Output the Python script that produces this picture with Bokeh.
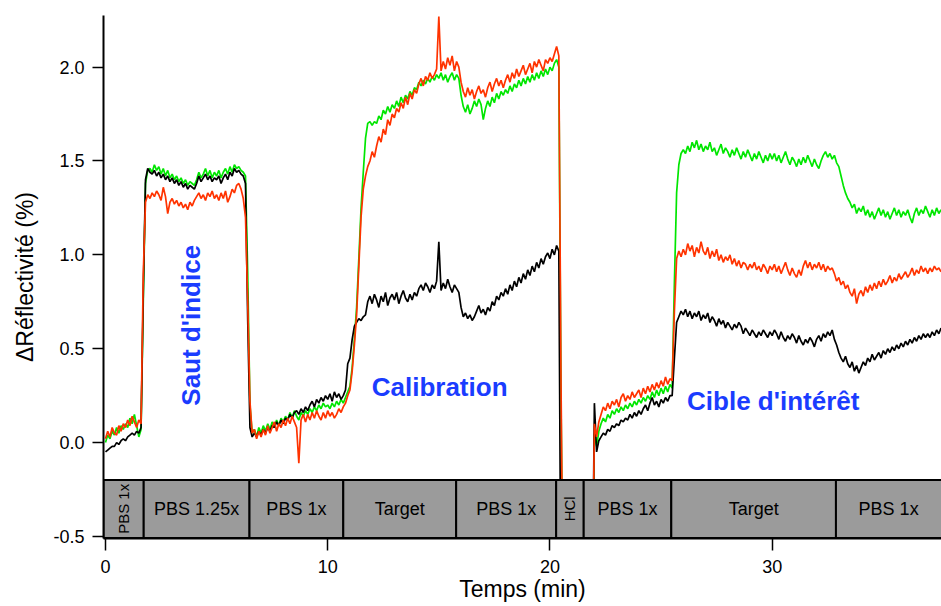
import math
from bokeh.plotting import figure
from bokeh.models import Range1d, FixedTicker, ColumnDataSource, PrintfTickFormatter
from bokeh.core.properties import value
from bokeh.embed import file_html
from bokeh.resources import INLINE

black = [
    -0.05, -0.04, -0.03, -0.02, -0.02, 0.00, -0.01, 0.01, 0.02, 0.01,
    0.03, 0.04, 0.05, 0.04, 0.06, 0.05, 0.08, 0.80, 1.40, 1.46,
    1.44, 1.43, 1.45, 1.42, 1.44, 1.41, 1.43, 1.40, 1.42, 1.39,
    1.41, 1.38, 1.40, 1.37, 1.39, 1.36, 1.38, 1.35, 1.37, 1.36,
    1.35, 1.38, 1.42, 1.39, 1.41, 1.43, 1.40, 1.42, 1.39, 1.41,
    1.40, 1.42, 1.38, 1.41, 1.43, 1.40, 1.44, 1.42, 1.46, 1.44,
    1.45, 1.43, 1.42, 1.38, 0.65, 0.08, 0.03, 0.05, 0.03, 0.06,
    0.04, 0.07, 0.05, 0.08, 0.06, 0.09, 0.08, 0.11, 0.09, 0.12,
    0.10, 0.13, 0.12, 0.15, 0.13, 0.16, 0.17, 0.15, 0.18, 0.16,
    0.19, 0.17, 0.20, 0.22, 0.19, 0.23, 0.21, 0.24, 0.22, 0.25,
    0.23, 0.26, 0.22, 0.27, 0.24, 0.26, 0.23, 0.25, 0.28, 0.42,
    0.45, 0.55, 0.62, 0.64, 0.66, 0.65, 0.67, 0.68, 0.75, 0.78,
    0.74, 0.79, 0.76, 0.72, 0.78, 0.75, 0.80, 0.73, 0.77, 0.79,
    0.76, 0.80, 0.74, 0.78, 0.81, 0.77, 0.75, 0.79, 0.76, 0.80,
    0.78, 0.82, 0.84, 0.81, 0.85, 0.83, 0.80, 0.84, 0.82, 0.86,
    1.07, 0.81, 0.85, 0.82, 0.87, 0.83, 0.80, 0.84, 0.82, 0.80,
    0.72, 0.67, 0.69, 0.66, 0.68, 0.65, 0.67, 0.70, 0.73, 0.69,
    0.71, 0.68, 0.72, 0.70, 0.75, 0.73, 0.78, 0.76, 0.80, 0.78,
    0.82, 0.79, 0.84, 0.81, 0.86, 0.83, 0.88, 0.85, 0.90, 0.87,
    0.92, 0.89, 0.94, 0.91, 0.96, 0.93, 0.98, 0.95, 0.99, 1.01,
    0.98, 1.03, 1.00, 1.05, 1.02, -1.00, -1.00, -1.00, -1.00, -1.00,
    -1.00, -1.00, -1.00, -1.00, -1.00, -1.00, -1.00, -1.00, -1.00, -1.00,
    0.21, -0.05, 0.01, 0.03, 0.05, 0.04, 0.07, 0.06, 0.09, 0.08,
    0.10, 0.09, 0.12, 0.11, 0.13, 0.12, 0.15, 0.13, 0.16, 0.14,
    0.17, 0.15, 0.18, 0.20, 0.17, 0.21, 0.24, 0.20, 0.22, 0.19,
    0.23, 0.21, 0.24, 0.22, 0.25, 0.25, 0.45, 0.64, 0.67, 0.70,
    0.68, 0.71, 0.67, 0.70, 0.66, 0.69, 0.67, 0.70, 0.65, 0.68,
    0.66, 0.69, 0.64, 0.67, 0.65, 0.62, 0.66, 0.63, 0.65, 0.61,
    0.64, 0.62, 0.60, 0.63, 0.61, 0.64, 0.62, 0.58, 0.61, 0.59,
    0.57, 0.60, 0.58, 0.56, 0.59, 0.57, 0.60, 0.58, 0.56, 0.59,
    0.57, 0.60, 0.58, 0.55, 0.59, 0.56, 0.54, 0.57, 0.55, 0.58,
    0.56, 0.53, 0.57, 0.54, 0.52, 0.55, 0.53, 0.56, 0.54, 0.51,
    0.55, 0.57, 0.54, 0.58, 0.56, 0.59, 0.57, 0.60, 0.55, 0.52,
    0.48, 0.45, 0.43, 0.46, 0.42, 0.40, 0.43, 0.38, 0.41, 0.37,
    0.40, 0.43, 0.41, 0.45, 0.43, 0.47, 0.44, 0.46, 0.48, 0.45,
    0.49, 0.47, 0.50, 0.48, 0.51, 0.49, 0.52, 0.50, 0.53, 0.51,
    0.54, 0.52, 0.55, 0.53, 0.56, 0.54, 0.57, 0.55, 0.58, 0.56,
    0.58, 0.56, 0.59, 0.57, 0.60, 0.58, 0.61,
]

red = [
    0.02, 0.06, 0.03, 0.08, 0.05, 0.04, 0.09, 0.06, 0.10, 0.08,
    0.12, 0.09, 0.14, 0.11, 0.08, 0.12, 0.10, 0.90, 1.28, 1.32,
    1.30, 1.33, 1.31, 1.34, 1.32, 1.29, 1.36, 1.31, 1.22, 1.28,
    1.30, 1.27, 1.29, 1.26, 1.28, 1.25, 1.27, 1.24, 1.28, 1.26,
    1.29, 1.31, 1.33, 1.30, 1.32, 1.29, 1.33, 1.31, 1.34, 1.30,
    1.32, 1.29, 1.33, 1.30, 1.34, 1.28, 1.31, 1.35, 1.33, 1.37,
    1.38, 1.35, 1.30, 1.20, 0.75, 0.22, 0.05, 0.07, 0.02, 0.06,
    0.03, 0.07, 0.04, 0.09, 0.05, 0.08, 0.11, 0.06, 0.10, 0.08,
    0.12, 0.09, 0.13, 0.10, 0.14, 0.11, 0.08, -0.11, 0.12, 0.15,
    0.11, 0.15, 0.12, 0.16, 0.13, 0.17, 0.14, 0.12, 0.16, 0.13,
    0.17, 0.14, 0.16, 0.13, 0.15, 0.18, 0.16, 0.19, 0.21, 0.25,
    0.28, 0.38, 0.52, 0.68, 0.94, 1.20, 1.35, 1.42, 1.47, 1.50,
    1.55, 1.52, 1.58, 1.63, 1.60, 1.67, 1.64, 1.72, 1.69, 1.75,
    1.73, 1.78, 1.76, 1.81, 1.78, 1.84, 1.80, 1.86, 1.83, 1.88,
    1.86, 1.91, 1.94, 1.90, 1.95, 1.93, 1.97, 1.94, 1.96, 1.99,
    2.27, 1.98, 2.03, 1.99, 2.05, 2.01, 2.06, 1.98, 2.03, 2.00,
    1.92, 1.87, 1.84, 1.89, 1.85, 1.88, 1.83, 1.87, 1.90, 1.86,
    1.88, 1.84, 1.89, 1.92, 1.87, 1.91, 1.94, 1.90, 1.93, 1.89,
    1.93, 1.96, 1.92, 1.97, 1.94, 1.99, 1.95, 1.98, 2.01, 1.96,
    1.99, 2.02, 1.97, 2.03, 2.00, 2.04, 2.01, 1.98, 2.04, 2.02,
    2.05, 2.03, 2.07, 2.11, 2.06, 0.30, -1.00, -1.00, -1.00, -1.00,
    -1.00, -1.00, -1.00, -1.00, -1.00, -1.00, -1.00, -1.00, -1.00, -1.00,
    0.10, 0.03, 0.11, 0.15, 0.19, 0.17, 0.21, 0.18, 0.22, 0.20,
    0.23, 0.19, 0.24, 0.26, 0.22, 0.25, 0.23, 0.27, 0.24, 0.26,
    0.28, 0.24, 0.29, 0.26, 0.30, 0.27, 0.31, 0.28, 0.32, 0.29,
    0.33, 0.30, 0.35, 0.31, 0.34, 0.33, 0.70, 0.98, 1.02, 0.99,
    1.03, 1.00, 1.06, 1.02, 1.05, 0.99, 1.04, 1.01, 1.07, 1.02,
    1.00, 1.04, 0.98, 1.02, 0.99, 1.03, 0.97, 1.00, 0.96, 0.99,
    0.97, 1.00, 0.95, 0.98, 0.94, 0.97, 0.93, 0.96, 0.95, 0.92,
    0.95, 0.93, 0.96, 0.92, 0.94, 0.91, 0.95, 0.93, 0.90, 0.94,
    0.92, 0.95, 0.91, 0.94, 0.90, 0.93, 0.96, 0.92, 0.89, 0.93,
    0.90, 0.88, 0.92, 0.89, 0.94, 0.97, 0.93, 0.96, 0.92, 0.95,
    0.93, 0.96, 0.92, 0.95, 0.91, 0.94, 0.92, 0.93, 0.90, 0.86,
    0.88, 0.84, 0.86, 0.82, 0.84, 0.80, 0.78, 0.82, 0.74, 0.79,
    0.81, 0.78, 0.83, 0.80, 0.84, 0.81, 0.85, 0.82, 0.86, 0.83,
    0.87, 0.84, 0.86, 0.89, 0.85, 0.88, 0.86, 0.90, 0.87, 0.89,
    0.91, 0.88, 0.90, 0.93, 0.89, 0.92, 0.90, 0.94, 0.91, 0.93,
    0.90, 0.93, 0.91, 0.94, 0.92, 0.93, 0.91,
]

green = [
    0.00, 0.04, 0.02, 0.06, 0.04, 0.08, 0.05, 0.09, 0.07, 0.10,
    0.08, 0.13, 0.10, 0.15, 0.09, 0.03, 0.07, 0.75, 1.38, 1.45,
    1.46, 1.44, 1.48, 1.45, 1.47, 1.43, 1.46, 1.42, 1.45, 1.41,
    1.43, 1.40, 1.42, 1.39, 1.41, 1.38, 1.40, 1.37, 1.39, 1.38,
    1.37, 1.40, 1.44, 1.41, 1.43, 1.46, 1.42, 1.45, 1.41, 1.44,
    1.42, 1.45, 1.41, 1.44, 1.46, 1.43, 1.47, 1.44, 1.48, 1.46,
    1.47, 1.45, 1.44, 1.42, 0.90, 0.20, 0.05, 0.07, 0.03, 0.08,
    0.05, 0.09, 0.06, 0.10, 0.07, 0.11, 0.08, 0.12, 0.09, 0.13,
    0.11, 0.14, 0.12, 0.16, 0.13, 0.17, 0.14, 0.12, 0.16, 0.14,
    0.17, 0.15, 0.18, 0.16, 0.19, 0.17, 0.20, 0.18, 0.21, 0.19,
    0.20, 0.18, 0.21, 0.19, 0.22, 0.20, 0.23, 0.21, 0.24, 0.27,
    0.30, 0.40, 0.55, 0.72, 0.98, 1.25, 1.44, 1.62, 1.70, 1.71,
    1.69, 1.71, 1.70, 1.74, 1.72, 1.77, 1.75, 1.79, 1.76, 1.80,
    1.78, 1.82, 1.79, 1.84, 1.81, 1.85, 1.83, 1.87, 1.85, 1.89,
    1.88, 1.92, 1.90, 1.93, 1.91, 1.94, 1.92, 1.95, 1.93, 1.96,
    1.94, 1.97, 1.93, 1.96, 1.92, 1.95, 1.97, 1.93, 1.96, 1.94,
    1.85, 1.79, 1.76, 1.80, 1.75, 1.78, 1.82, 1.79, 1.83, 1.80,
    1.72, 1.78, 1.82, 1.79, 1.84, 1.81, 1.86, 1.83, 1.87, 1.85,
    1.88, 1.86, 1.90, 1.87, 1.91, 1.89, 1.93, 1.90, 1.94, 1.91,
    1.95, 1.92, 1.96, 1.93, 1.97, 1.94, 1.98, 1.95, 1.99, 1.96,
    2.00, 1.98, 2.02, 2.04, 2.00, 0.20, -1.00, -1.00, -1.00, -1.00,
    -1.00, -1.00, -1.00, -1.00, -1.00, -1.00, -1.00, -1.00, -1.00, -1.00,
    0.05, -0.02, 0.06, 0.10, 0.13, 0.11, 0.15, 0.13, 0.17, 0.15,
    0.18, 0.16, 0.19, 0.17, 0.20, 0.18, 0.21, 0.19, 0.22, 0.20,
    0.23, 0.21, 0.24, 0.22, 0.25, 0.23, 0.27, 0.24, 0.28, 0.25,
    0.29, 0.26, 0.30, 0.27, 0.31, 0.29, 0.85, 1.33, 1.48, 1.54,
    1.56, 1.54, 1.58, 1.55, 1.60, 1.57, 1.61, 1.56, 1.59, 1.55,
    1.58, 1.56, 1.60, 1.55, 1.57, 1.53, 1.56, 1.59, 1.54, 1.57,
    1.55, 1.52, 1.56, 1.53, 1.57, 1.54, 1.51, 1.55, 1.52, 1.56,
    1.53, 1.50, 1.54, 1.51, 1.55, 1.52, 1.49, 1.53, 1.50, 1.54,
    1.51, 1.54, 1.50, 1.53, 1.49, 1.52, 1.55, 1.51, 1.48, 1.52,
    1.50, 1.47, 1.51, 1.48, 1.52, 1.49, 1.53, 1.50, 1.47, 1.51,
    1.48, 1.46, 1.50, 1.53, 1.55, 1.52, 1.54, 1.51, 1.53, 1.49,
    1.47, 1.42, 1.37, 1.33, 1.30, 1.28, 1.25, 1.27, 1.22, 1.25,
    1.23, 1.26, 1.21, 1.24, 1.20, 1.23, 1.19, 1.22, 1.25, 1.21,
    1.24, 1.20, 1.23, 1.19, 1.22, 1.25, 1.21, 1.24, 1.20, 1.23,
    1.21, 1.24, 1.20, 1.17, 1.22, 1.25, 1.21, 1.24, 1.22, 1.26,
    1.23, 1.20, 1.24, 1.21, 1.25, 1.22, 1.24,
]

time_min = [round(0.1 * i, 1) for i in range(len(black))]

band_start = [-0.09, 1.72, 6.48, 10.70, 15.78, 20.28, 21.52, 25.46, 32.87]
band_end = [1.72, 6.48, 10.70, 15.78, 20.28, 21.52, 25.46, 32.87, 37.80]
band_label = ["PBS 1x", "PBS 1.25x", "PBS 1x", "Target", "PBS 1x", "HCl", "PBS 1x", "Target", "PBS 1x"]
band_vertical = [True, False, False, False, False, True, False, False, False]
band_label_x = [0.82, 4.10, 8.59, 13.24, 18.03, 20.90, 23.49, 29.17, 35.24]

y_ticks = [-0.5, 0.0, 0.5, 1.0, 1.5, 2.0]
x_ticks = [0, 10, 20, 30]

note_text = ["Saut d'indice", "Calibration", "Cible d'intérêt"]
note_x = [3.83, 11.98, 26.17]
note_y = [0.625, 0.294, 0.224]

# ---- figure ----
FONT = "Liberation Sans"
p = figure(width=941, height=606, output_backend="svg", toolbar_location=None,
           x_range=Range1d(-0.09, 37.62), y_range=Range1d(-0.511, 2.275),
           min_border_left=103, min_border_right=0, min_border_top=15, min_border_bottom=68)
p.outline_line_color = None
p.xgrid.visible = False
p.ygrid.visible = False
p.background_fill_color = "white"

src = ColumnDataSource(dict(t=time_min, k=black, r=red, g=green))
p.line("t", "g", source=src, color="#00e600", line_width=1.7)
p.line("t", "k", source=src, color="black", line_width=1.7)
p.line("t", "r", source=src, color="#ff3300", line_width=1.7)

# condition bands (drawn over the traces)
band_bottom = [-0.508] * len(band_start)
band_top = [-0.2] * len(band_start)
p.quad(left=band_start, right=band_end, bottom=band_bottom, top=band_top,
       fill_color="#9b9b9b", line_color="black", line_width=2)

hx = [band_label_x[i] for i in range(len(band_label)) if not band_vertical[i]]
ht = [band_label[i] for i in range(len(band_label)) if not band_vertical[i]]
vx = [band_label_x[i] for i in range(len(band_label)) if band_vertical[i]]
vt = [band_label[i] for i in range(len(band_label)) if band_vertical[i]]
mid = -0.353
p.text(x=hx, y=[mid] * len(hx), text=ht, text_align="center", text_baseline="middle",
       text_font=value(FONT), text_font_size="18px", text_color="black")
p.text(x=vx, y=[mid] * len(vx), text=vt, angle=math.pi / 2, text_align="center",
       text_baseline="middle", text_font=value(FONT), text_font_size="15px", text_color="black")

# annotations
blue = "#1a3cff"
p.text(x=[note_x[0]], y=[note_y[0]], text=[note_text[0]], angle=math.pi / 2,
       text_align="center", text_baseline="middle", text_font=value(FONT),
       text_font_style="bold", text_font_size="26px", text_color=blue)
p.text(x=note_x[1:], y=note_y[1:], text=note_text[1:], text_align="left",
       text_baseline="middle", text_font=value(FONT),
       text_font_style="bold", text_font_size="26px", text_color=blue)

# axes
for ax in (p.xaxis[0], p.yaxis[0]):
    ax.axis_line_width = 2
    ax.major_tick_line_width = 1.5
    ax.minor_tick_line_color = None
    ax.major_tick_in = 0
    ax.major_label_text_font = FONT
    ax.major_label_text_font_size = "18px"
    ax.major_label_text_color = "black"
    ax.axis_label_text_font = FONT
    ax.axis_label_text_font_size = "23px"
    ax.axis_label_text_font_style = "normal"
    ax.axis_label_text_color = "black"

p.xaxis.ticker = FixedTicker(ticks=x_ticks)
p.xaxis.major_tick_out = 12
p.xaxis.major_label_standoff = 9
p.xaxis.axis_label = "Temps (min)"
p.xaxis.axis_label_standoff = 0

p.yaxis.ticker = FixedTicker(ticks=y_ticks)
p.yaxis.formatter = PrintfTickFormatter(format="%.1f")
p.yaxis.major_tick_out = 11
p.yaxis.major_label_standoff = 8
p.yaxis.axis_label = "ΔRéflectivité (%)"
p.yaxis.axis_label_standoff = 12

open("out.html", "w").write(file_html(p, INLINE))
